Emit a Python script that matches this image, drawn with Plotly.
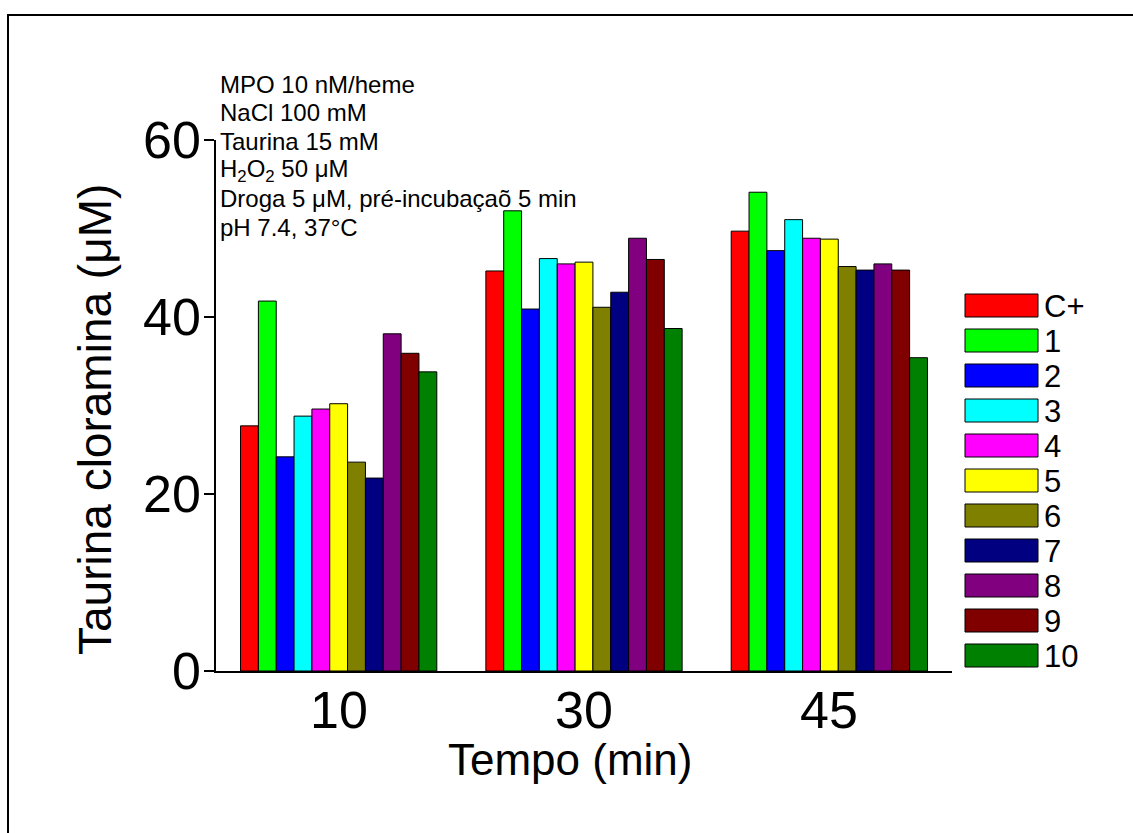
import plotly.graph_objects as go

# ---- data ----
times = ["10", "30", "45"]
series_names = ["C+", "1", "2", "3", "4", "5", "6", "7", "8", "9", "10"]
series_colors = ["#FF0000", "#00FF00", "#0000FF", "#00FFFF", "#FF00FF", "#FFFF00",
                 "#808000", "#000080", "#800080", "#800000", "#008000"]
vals_Cplus = [27.7, 45.2, 49.7]
vals_1 = [41.8, 52.0, 54.1]
vals_2 = [24.2, 40.9, 47.5]
vals_3 = [28.8, 46.6, 51.0]
vals_4 = [29.6, 46.0, 48.9]
vals_5 = [30.2, 46.2, 48.8]
vals_6 = [23.6, 41.1, 45.7]
vals_7 = [21.8, 42.8, 45.3]
vals_8 = [38.1, 48.9, 46.0]
vals_9 = [35.9, 46.5, 45.3]
vals_10 = [33.8, 38.7, 35.4]
series_values = [vals_Cplus, vals_1, vals_2, vals_3, vals_4, vals_5,
                 vals_6, vals_7, vals_8, vals_9, vals_10]
yticks = [0, 20, 40, 60]

condition_lines = ["MPO 10 nM/heme", "NaCl 100 mM", "Taurina 15 mM",
                   "H<sub>2</sub>O<sub>2</sub> 50 μM",
                   "Droga 5 μM, pré-incubaçaõ 5 min", "pH 7.4, 37°C"]
x_title = "Tempo (min)"
y_title = "Taurina cloramina (μM)"

FONT = "Liberation Sans, Arial, sans-serif"
W, H = 1133, 833
ML, MR, MT, MB = 216, 181, 140, 162
PW, PH = W - ML - MR, H - MT - MB


def px_x(x):
    return (x - ML) / PW


def px_y(y):
    return (H - MB - y) / PH


fig = go.Figure()
for name, color, vals in zip(series_names, series_colors, series_values):
    fig.add_trace(go.Bar(x=times, y=vals, name=name,
                         marker=dict(color=color, line=dict(color="black", width=1)),
                         showlegend=False))

shapes = []
annotations = []
# outer frame
shapes.append(dict(type="rect", xref="paper", yref="paper",
                   x0=px_x(8), x1=px_x(1145), y0=px_y(15), y1=px_y(845),
                   line=dict(color="black", width=2), fillcolor="rgba(0,0,0,0)", layer="below"))
# custom legend
for i, (name, color) in enumerate(zip(series_names, series_colors)):
    top = 294 + 35 * i
    shapes.append(dict(type="rect", xref="paper", yref="paper",
                       x0=px_x(965), x1=px_x(1038), y0=px_y(top), y1=px_y(top + 23),
                       line=dict(color="black", width=1), fillcolor=color))
    annotations.append(dict(xref="paper", yref="paper", x=px_x(1042), y=px_y(top + 12),
                            xanchor="left", yanchor="middle", showarrow=False,
                            text=name, font=dict(family=FONT, size=31, color="black")))

# experimental conditions text, one line each
for i, line in enumerate(condition_lines):
    annotations.append(dict(xref="paper", yref="paper", x=px_x(218), y=px_y(84 + 28.7 * i),
                            xanchor="left", yanchor="middle", align="left", showarrow=False,
                            text=line, font=dict(family=FONT, size=24, color="black")))

# tick labels (placed as text so they sit where the reference puts them)
for i, t in enumerate(times):
    annotations.append(dict(xref="x", yref="paper", x=i, y=px_y(710),
                            xanchor="center", yanchor="middle", showarrow=False,
                            text=t, font=dict(family=FONT, size=52, color="black")))
for v in yticks:
    annotations.append(dict(xref="paper", yref="y", x=px_x(203), y=v,
                            xanchor="right", yanchor="middle", showarrow=False,
                            text=str(v), font=dict(family=FONT, size=52, color="black")))

# axis titles
annotations.append(dict(xref="paper", yref="paper", x=px_x(570), y=px_y(759),
                        xanchor="center", yanchor="middle", showarrow=False,
                        text=x_title, font=dict(family=FONT, size=44, color="black")))
annotations.append(dict(xref="paper", yref="paper", x=px_x(95), y=px_y(420),
                        xanchor="center", yanchor="middle", showarrow=False, textangle=-90,
                        text=y_title, font=dict(family=FONT, size=46, color="black")))

fig.update_layout(
    width=W, height=H,
    margin=dict(l=ML, r=MR, t=MT, b=MB, pad=0),
    paper_bgcolor="white", plot_bgcolor="white",
    barmode="group", bargap=0.2, bargroupgap=0,
    shapes=shapes, annotations=annotations,
    font=dict(family=FONT, color="black"),
    xaxis=dict(type="category", range=[-0.5, 2.5], showline=True, linecolor="black",
               linewidth=2, ticks="", showgrid=False, zeroline=False,
               showticklabels=False),
    yaxis=dict(range=[0, 60], tickvals=yticks, showline=True, linecolor="black",
               linewidth=2, ticks="outside", ticklen=10, tickwidth=2, tickcolor="black",
               showgrid=False, zeroline=False, showticklabels=False),
)

fig.write_html("out.html")
